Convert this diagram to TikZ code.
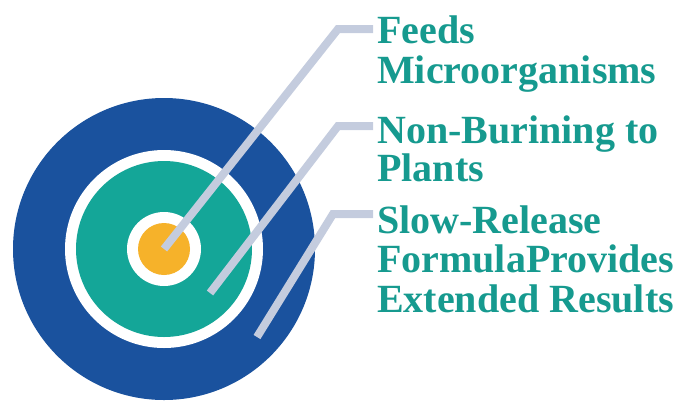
\documentclass[tikz,border=0pt]{standalone}
\usepackage{fontspec}
\setmainfont{Liberation Serif}
\definecolor{ringblue}{RGB}{26,82,158}
\definecolor{discteal}{RGB}{20,166,152}
\definecolor{textteal}{RGB}{22,154,143}
\definecolor{coreorange}{RGB}{246,178,42}
\definecolor{leadgray}{RGB}{196,204,222}

\tikzset{
  disc/.style={circle, inner sep=0pt, minimum size=#1},
  leader/.style={draw=leadgray, line width=8pt},
  blurb/.style={anchor=base west, inner sep=0pt, text=textteal,
    font=\fontsize{40}{40}\selectfont\bfseries}
}

\begin{document}
\begin{tikzpicture}[x=1pt,y=-1pt]
\useasboundingbox (0,0) rectangle (677,400);

% target rings
\node[disc=302pt, fill=ringblue] (outer) at (164,249) {};
\node[disc=198pt, fill=white] (gap1) at (164,249) {};
\node[disc=176pt, fill=discteal] (mid) at (164,249) {};
\node[disc=74pt, fill=white] (gap2) at (164,249) {};
\node[disc=52pt, fill=coreorange] (core) at (164,249) {};

% leader ends
\coordinate (foot2) at (210,293);
\coordinate (foot3) at (257,337);
\coordinate (bend1) at (338,29);
\coordinate (bend2) at (338,126);
\coordinate (bend3) at (333,214);
\coordinate (tip1) at (373,29);
\coordinate (tip2) at (373,126);
\coordinate (tip3) at (373,214);

\draw[leader] (core.center) -- (bend1) -- (tip1);
\draw[leader] (foot2) -- (bend2) -- (tip2);
\draw[leader] (foot3) -- (bend3) -- (tip3);

% texts
\node[blurb] (feeds) at (377,43) {Feeds};
\node[blurb] (micro) at (377,83) {Microorganisms};
\node[blurb] (nonburn) at (377,143) {Non-Burining to};
\node[blurb] (plants) at (377,181) {Plants};
\node[blurb] (slow) at (377,233) {Slow-Release};
\node[blurb] (formula) at (377,272) {FormulaProvides};
\node[blurb] (extended) at (377,312) {Extended Results};
\end{tikzpicture}
\end{document}
